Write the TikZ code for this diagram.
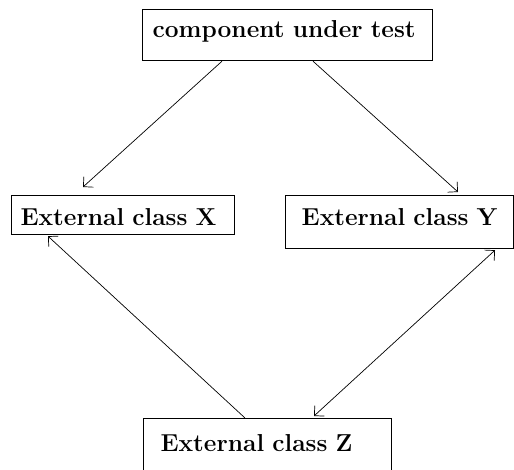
\documentclass[tikz,border=0pt]{standalone}
\usetikzlibrary{arrows.meta,calc}
\begin{document}
\begin{tikzpicture}[x=1pt,y=-1pt,
  classbox/.style={draw,line width=1.2pt,anchor=north west,inner ysep=0pt,align=left,
    font=\fontsize{24.5}{28}\selectfont\bfseries},
  dep/.style={line width=0.7pt,-{Straight Barb[angle=90:10pt]}}]
  \clip (0,0) rectangle (514,470);
  \node[classbox,inner xsep=10pt,text width=270pt,text height=28pt,text depth=23pt] (cut) at (142,9) {component under test};
  \node[classbox,inner xsep=9pt,text width=205pt,text height=30pt,text depth=9pt] (clsX) at (11,195) {External class X};
  \node[classbox,inner xsep=14pt,text width=200pt,text height=30pt,text depth=23pt,align=center] (clsY) at (285,195) {External class Y};
  \node[classbox,inner xsep=17pt,text width=214pt,text height=33pt,text depth=30pt] (clsZ) at (143,418) {External class Z};

  \draw[dep] ($(cut.south west)+(80,0)$) -- ($(clsX.north west)+(72,-8)$);
  \draw[dep] ($(cut.south west)+(171,0)$) -- ($(clsY.north west)+(173,-3)$);
  \draw[dep] ($(clsZ.north west)+(102,0)$) -- ($(clsX.south west)+(37,1)$);
  %% both ways between Y and Z
  \draw[dep,{Straight Barb[angle=90:10pt]}-{Straight Barb[angle=90:10pt]}] ($(clsZ.north west)+(171,-2)$) -- ($(clsY.south west)+(210,1)$);
\end{tikzpicture}
\end{document}
